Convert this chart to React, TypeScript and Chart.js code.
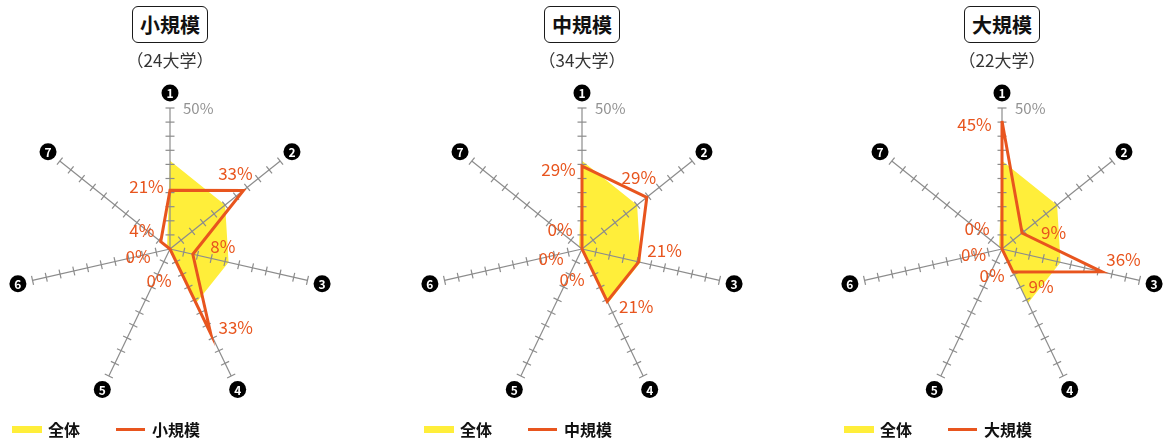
import React, { useEffect, useRef } from 'react';
import { Chart, registerables } from 'chart.js';

Chart.register(...registerables);

// ---- data ----
const axisLabels = ['1', '2', '3', '4', '5', '6', '7'];
const overallName = '全体';
const overallValues = [31.3, 25.0, 21.3, 21.3, 0, 0, 1.3];
const smallValues = [20.8, 33.3, 8.3, 33.3, 0, 0, 4.2];
const mediumValues = [29.4, 29.4, 20.6, 20.6, 0, 0, 0];
const largeValues = [45.4, 9.1, 36.4, 9.1, 0, 0, 0];
const groupNames = ['小規模', '中規模', '大規模'];
const groupCounts = ['（24大学）', '（34大学）', '（22大学）'];
const scaleMax = 50;
const tickStep = 5;
const maxLabel = '50%';

// ---- style ----
const YELLOW = '#FFEE3A';
const ORANGE = '#E8551E';
const AXIS_GREY = '#8c8c8c';
const FONT = '"Noto Sans CJK JP", "Noto Sans", sans-serif';
const CENTERS_X = [170, 582, 1002];
const CENTER_Y = 249;
const RADIUS = 141;
const CANVAS_W = 340;
const CANVAS_H = 438;

// label offsets (px) relative to each computed data point
const labelOffsets = [
  [[-23.5, -3.5], [-8, -17], [30, -8], [25, -6.5], [-11, 32], [-32, 8], [-19, -11.5]],
  [[-23.5, 3], [-8, -20], [26, -11], [29, 5], [-10, 31], [-31, 10], [-22, -19]],
  [[-27.5, 3.3], [31.6, -0.7], [21.4, -12.5], [28, 14], [-10, 27], [-28.5, 6], [-25, -20]],
];

const radarDecor = {
  id: 'radarDecor',
  beforeDatasetDraw(chart: any, args: any) {
    if (args.index !== 1) return;
    const scale = chart.scales.r;
    const ctx = chart.ctx;
    ctx.save();
    ctx.strokeStyle = AXIS_GREY;
    ctx.lineWidth = 1.2;
    const n = chart.data.labels.length;
    for (let i = 0; i < n; i++) {
      const end = scale.getPointPositionForValue(i, scaleMax);
      ctx.beginPath();
      ctx.moveTo(scale.xCenter, scale.yCenter);
      ctx.lineTo(end.x, end.y);
      ctx.stroke();
      const a = scale.getIndexAngle(i) - Math.PI / 2;
      const px = -Math.sin(a);
      const py = Math.cos(a);
      for (let v = tickStep; v <= scaleMax + 0.001; v += tickStep) {
        const p = scale.getPointPositionForValue(i, v);
        ctx.beginPath();
        ctx.moveTo(p.x - px * 4.5, p.y - py * 4.5);
        ctx.lineTo(p.x + px * 4.5, p.y + py * 4.5);
        ctx.stroke();
      }
    }
    ctx.restore();
  },
  afterDatasetsDraw(chart: any, _args: any, opts: any) {
    const scale = chart.scales.r;
    const ctx = chart.ctx;
    const labels = chart.data.labels;
    ctx.save();
    // max label
    const top = scale.getPointPositionForValue(0, scaleMax);
    ctx.fillStyle = '#929292';
    ctx.font = `15px ${FONT}`;
    ctx.textAlign = 'left';
    ctx.textBaseline = 'middle';
    ctx.fillText(maxLabel, top.x + 13, top.y);
    // circled axis numbers
    for (let i = 0; i < labels.length; i++) {
      const p = scale.getPointPosition(i, RADIUS + 15);
      ctx.beginPath();
      ctx.fillStyle = '#000';
      ctx.arc(p.x, p.y, 8.5, 0, Math.PI * 2);
      ctx.fill();
      ctx.fillStyle = '#fff';
      ctx.font = `bold 12px ${FONT}`;
      ctx.textAlign = 'center';
      ctx.textBaseline = 'middle';
      ctx.fillText(labels[i], p.x, p.y + 0.5);
    }
    // value labels
    const values = chart.data.datasets[1].data;
    ctx.fillStyle = ORANGE;
    ctx.font = `17px ${FONT}`;
    ctx.textAlign = 'center';
    ctx.textBaseline = 'middle';
    for (let i = 0; i < values.length; i++) {
      const p = scale.getPointPositionForValue(i, values[i]);
      const off = opts.offsets[i];
      ctx.fillText(`${Math.round(values[i])}%`, p.x + off[0], p.y + off[1]);
    }
    ctx.restore();
  },
};

function RadarPanel({ idx, values }: { idx: number; values: number[] }) {
  const ref = useRef<HTMLCanvasElement>(null);
  useEffect(() => {
    if (!ref.current) return;
    const padX = (CANVAS_W - 2 * RADIUS) / 2;
    const padTop = CENTER_Y - RADIUS;
    const padBottom = CANVAS_H - padTop - 2 * RADIUS;
    const chart = new Chart(ref.current, {
      type: 'radar',
      data: {
        labels: axisLabels,
        datasets: [
          {
            label: overallName,
            data: overallValues,
            backgroundColor: YELLOW,
            borderColor: YELLOW,
            borderWidth: 0,
            fill: true,
            pointRadius: 0,
            order: 2,
          },
          {
            label: groupNames[idx],
            data: values,
            borderColor: ORANGE,
            backgroundColor: 'rgba(0,0,0,0)',
            borderWidth: 3,
            fill: false,
            pointRadius: 0,
            order: 1,
          },
        ],
      },
      options: {
        animation: false,
        responsive: false,
        maintainAspectRatio: false,
        layout: { padding: { left: padX, right: padX, top: padTop, bottom: padBottom } },
        elements: { line: { tension: 0, borderJoinStyle: 'miter' } },
        plugins: {
          legend: { display: false },
          tooltip: { enabled: false },
          radarDecor: { offsets: labelOffsets[idx] },
        } as any,
        scales: {
          r: {
            min: 0,
            max: scaleMax,
            ticks: { display: false, stepSize: tickStep },
            grid: { display: false },
            angleLines: { display: false },
            pointLabels: { display: false },
          },
        },
      },
      plugins: [radarDecor],
    });
    return () => chart.destroy();
  }, [idx, values]);

  const cx = CENTERS_X[idx];
  return (
    <>
      <canvas
        ref={ref}
        width={CANVAS_W}
        height={CANVAS_H}
        style={{ position: 'absolute', left: cx - CANVAS_W / 2, top: 0, width: CANVAS_W, height: CANVAS_H }}
      />
      <div
        style={{
          position: 'absolute',
          left: cx,
          top: 6,
          transform: 'translateX(-50%)',
          height: 37,
          boxSizing: 'border-box',
          border: '1.5px solid #1a1a1a',
          borderRadius: 6,
          padding: '0 7px',
          display: 'flex',
          alignItems: 'center',
          fontFamily: FONT,
          fontWeight: 'bold',
          fontSize: 20,
          color: '#111',
          whiteSpace: 'nowrap',
          background: '#fff',
        }}
      >
        {groupNames[idx]}
      </div>
      <div
        style={{
          position: 'absolute',
          left: cx,
          top: 59,
          transform: 'translate(-50%, -50%)',
          fontFamily: FONT,
          fontSize: 17,
          color: '#333',
          whiteSpace: 'nowrap',
          lineHeight: 1,
        }}
      >
        {groupCounts[idx]}
      </div>
      <div style={{ position: 'absolute', left: cx - 158, top: 425.5, width: 30, height: 7, background: YELLOW }} />
      <div
        style={{
          position: 'absolute',
          left: cx - 122,
          top: 429,
          transform: 'translateY(-50%)',
          fontFamily: FONT,
          fontSize: 16,
          fontWeight: 'bold',
          color: '#111',
          lineHeight: 1,
          whiteSpace: 'nowrap',
        }}
      >
        {overallName}
      </div>
      <div style={{ position: 'absolute', left: cx - 54, top: 427.5, width: 29, height: 3, background: ORANGE }} />
      <div
        style={{
          position: 'absolute',
          left: cx - 18,
          top: 429,
          transform: 'translateY(-50%)',
          fontFamily: FONT,
          fontSize: 16,
          fontWeight: 'bold',
          color: '#111',
          lineHeight: 1,
          whiteSpace: 'nowrap',
        }}
      >
        {groupNames[idx]}
      </div>
    </>
  );
}

const seriesList = [smallValues, mediumValues, largeValues];

export default function App() {
  return (
    <div
      style={{
        position: 'fixed',
        left: 0,
        top: 0,
        width: 1165,
        height: 438,
        overflow: 'hidden',
        background: '#fff',
      }}
    >
      {seriesList.map((vals, i) => (
        <RadarPanel key={i} idx={i} values={vals} />
      ))}
    </div>
  );
}
